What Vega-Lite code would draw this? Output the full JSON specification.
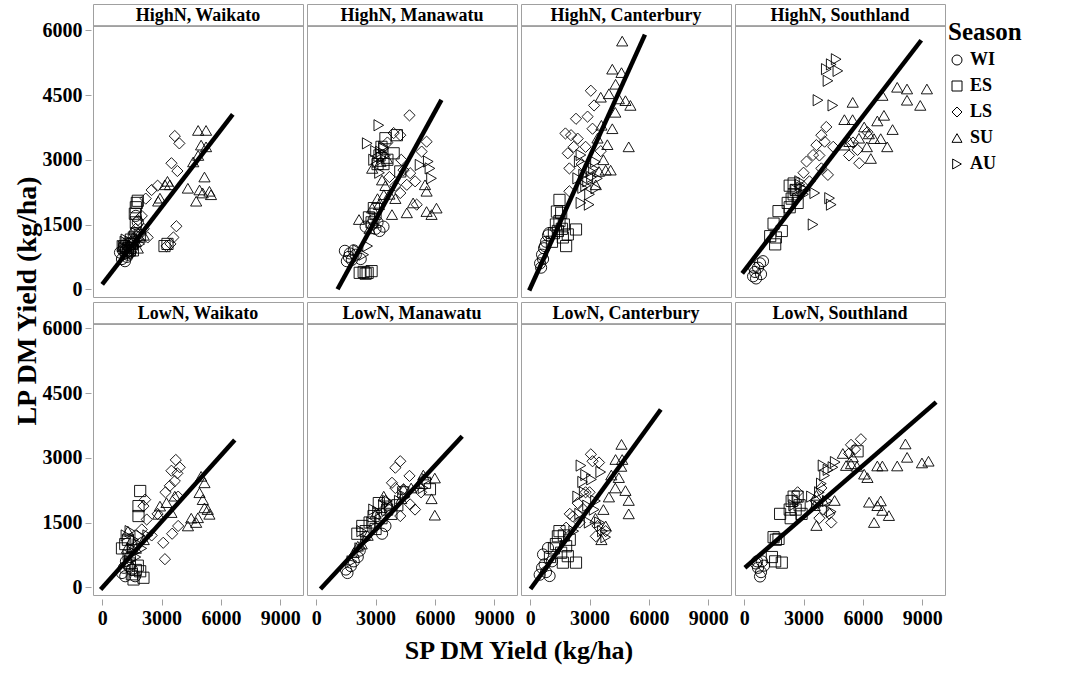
{
"$schema":"https://vega.github.io/schema/vega-lite/v6.json",
"background":"white",
"padding":{"left":13,"top":3,"right":5,"bottom":5},
"data":{"values":[
{"N":"HighN","Region":"Waikato","Season":"WI","SP":1000,"LP":700},{"N":"HighN","Region":"Waikato","Season":"WI","SP":1150,"LP":650},{"N":"HighN","Region":"Waikato","Season":"WI","SP":1300,"LP":800},{"N":"HighN","Region":"Waikato","Season":"WI","SP":1200,"LP":900},{"N":"HighN","Region":"Waikato","Season":"WI","SP":1400,"LP":850},{"N":"HighN","Region":"Waikato","Season":"WI","SP":1500,"LP":950},{"N":"HighN","Region":"Waikato","Season":"WI","SP":1100,"LP":1000},{"N":"HighN","Region":"Waikato","Season":"WI","SP":1650,"LP":1300},{"N":"HighN","Region":"Waikato","Season":"WI","SP":1800,"LP":1550},{"N":"HighN","Region":"Waikato","Season":"WI","SP":1700,"LP":1700},{"N":"HighN","Region":"Waikato","Season":"WI","SP":1350,"LP":1050},{"N":"HighN","Region":"Waikato","Season":"WI","SP":1550,"LP":1100},{"N":"HighN","Region":"Waikato","Season":"WI","SP":900,"LP":850},{"N":"HighN","Region":"Waikato","Season":"WI","SP":1250,"LP":750},{"N":"HighN","Region":"Waikato","Season":"WI","SP":1050,"LP":900},
{"N":"HighN","Region":"Waikato","Season":"ES","SP":1100,"LP":1000},{"N":"HighN","Region":"Waikato","Season":"ES","SP":1300,"LP":950},{"N":"HighN","Region":"Waikato","Season":"ES","SP":1500,"LP":1050},{"N":"HighN","Region":"Waikato","Season":"ES","SP":1600,"LP":1200},{"N":"HighN","Region":"Waikato","Season":"ES","SP":1700,"LP":1900},{"N":"HighN","Region":"Waikato","Season":"ES","SP":1750,"LP":2000},{"N":"HighN","Region":"Waikato","Season":"ES","SP":1800,"LP":2050},{"N":"HighN","Region":"Waikato","Season":"ES","SP":1650,"LP":1750},{"N":"HighN","Region":"Waikato","Season":"ES","SP":1400,"LP":900},{"N":"HighN","Region":"Waikato","Season":"ES","SP":3150,"LP":1000},{"N":"HighN","Region":"Waikato","Season":"ES","SP":3300,"LP":1050},{"N":"HighN","Region":"Waikato","Season":"ES","SP":1900,"LP":1250},{"N":"HighN","Region":"Waikato","Season":"ES","SP":1200,"LP":850},{"N":"HighN","Region":"Waikato","Season":"ES","SP":1450,"LP":1150},{"N":"HighN","Region":"Waikato","Season":"ES","SP":1550,"LP":900},{"N":"HighN","Region":"Waikato","Season":"ES","SP":1700,"LP":1550},
{"N":"HighN","Region":"Waikato","Season":"LS","SP":1900,"LP":1300},{"N":"HighN","Region":"Waikato","Season":"LS","SP":2100,"LP":1400},{"N":"HighN","Region":"Waikato","Season":"LS","SP":2200,"LP":2100},{"N":"HighN","Region":"Waikato","Season":"LS","SP":2000,"LP":1700},{"N":"HighN","Region":"Waikato","Season":"LS","SP":1800,"LP":1600},{"N":"HighN","Region":"Waikato","Season":"LS","SP":3670,"LP":3550},{"N":"HighN","Region":"Waikato","Season":"LS","SP":3900,"LP":3380},{"N":"HighN","Region":"Waikato","Season":"LS","SP":3500,"LP":2920},{"N":"HighN","Region":"Waikato","Season":"LS","SP":3800,"LP":2740},{"N":"HighN","Region":"Waikato","Season":"LS","SP":3750,"LP":1460},{"N":"HighN","Region":"Waikato","Season":"LS","SP":3600,"LP":1200},{"N":"HighN","Region":"Waikato","Season":"LS","SP":3250,"LP":1000},{"N":"HighN","Region":"Waikato","Season":"LS","SP":3450,"LP":1050},{"N":"HighN","Region":"Waikato","Season":"LS","SP":2300,"LP":1200},{"N":"HighN","Region":"Waikato","Season":"LS","SP":2500,"LP":2300},{"N":"HighN","Region":"Waikato","Season":"LS","SP":2800,"LP":2400},{"N":"HighN","Region":"Waikato","Season":"LS","SP":1700,"LP":1400},
{"N":"HighN","Region":"Waikato","Season":"SU","SP":4850,"LP":3680},{"N":"HighN","Region":"Waikato","Season":"SU","SP":5250,"LP":3680},{"N":"HighN","Region":"Waikato","Season":"SU","SP":5000,"LP":3340},{"N":"HighN","Region":"Waikato","Season":"SU","SP":5250,"LP":3300},{"N":"HighN","Region":"Waikato","Season":"SU","SP":4600,"LP":2950},{"N":"HighN","Region":"Waikato","Season":"SU","SP":4850,"LP":3100},{"N":"HighN","Region":"Waikato","Season":"SU","SP":5170,"LP":2600},{"N":"HighN","Region":"Waikato","Season":"SU","SP":4330,"LP":2340},{"N":"HighN","Region":"Waikato","Season":"SU","SP":4920,"LP":2300},{"N":"HighN","Region":"Waikato","Season":"SU","SP":5420,"LP":2270},{"N":"HighN","Region":"Waikato","Season":"SU","SP":5080,"LP":2230},{"N":"HighN","Region":"Waikato","Season":"SU","SP":4750,"LP":2040},{"N":"HighN","Region":"Waikato","Season":"SU","SP":5500,"LP":2190},{"N":"HighN","Region":"Waikato","Season":"SU","SP":3170,"LP":2420},{"N":"HighN","Region":"Waikato","Season":"SU","SP":3420,"LP":2420},{"N":"HighN","Region":"Waikato","Season":"SU","SP":2920,"LP":2110},{"N":"HighN","Region":"Waikato","Season":"SU","SP":2830,"LP":2040},{"N":"HighN","Region":"Waikato","Season":"SU","SP":3300,"LP":2500},{"N":"HighN","Region":"Waikato","Season":"SU","SP":1700,"LP":1100},{"N":"HighN","Region":"Waikato","Season":"SU","SP":1900,"LP":1200},{"N":"HighN","Region":"Waikato","Season":"SU","SP":2100,"LP":1250},{"N":"HighN","Region":"Waikato","Season":"SU","SP":1800,"LP":950},{"N":"HighN","Region":"Waikato","Season":"SU","SP":1550,"LP":1200},{"N":"HighN","Region":"Waikato","Season":"SU","SP":1200,"LP":950},
{"N":"HighN","Region":"Waikato","Season":"AU","SP":1100,"LP":950},{"N":"HighN","Region":"Waikato","Season":"AU","SP":1300,"LP":1050},{"N":"HighN","Region":"Waikato","Season":"AU","SP":1400,"LP":1100},{"N":"HighN","Region":"Waikato","Season":"AU","SP":1000,"LP":1000},{"N":"HighN","Region":"Waikato","Season":"AU","SP":1200,"LP":1150},{"N":"HighN","Region":"Waikato","Season":"AU","SP":1600,"LP":1000},{"N":"HighN","Region":"Waikato","Season":"AU","SP":1500,"LP":850},{"N":"HighN","Region":"Waikato","Season":"AU","SP":1700,"LP":1300},{"N":"HighN","Region":"Waikato","Season":"AU","SP":1900,"LP":1050},{"N":"HighN","Region":"Waikato","Season":"AU","SP":1300,"LP":800},{"N":"HighN","Region":"Waikato","Season":"AU","SP":1150,"LP":1100},{"N":"HighN","Region":"Waikato","Season":"AU","SP":1450,"LP":950},{"N":"HighN","Region":"Waikato","Season":"AU","SP":1800,"LP":1150},
{"N":"HighN","Region":"Waikato","Panel":"HighN, Waikato","SP":0,"LP":110},{"N":"HighN","Region":"Waikato","Panel":"HighN, Waikato","SP":6600,"LP":4050},

{"N":"HighN","Region":"Manawatu","Season":"WI","SP":1450,"LP":890},{"N":"HighN","Region":"Manawatu","Season":"WI","SP":1650,"LP":750},{"N":"HighN","Region":"Manawatu","Season":"WI","SP":1800,"LP":680},{"N":"HighN","Region":"Manawatu","Season":"WI","SP":2000,"LP":800},{"N":"HighN","Region":"Manawatu","Season":"WI","SP":2250,"LP":700},{"N":"HighN","Region":"Manawatu","Season":"WI","SP":1550,"LP":650},{"N":"HighN","Region":"Manawatu","Season":"WI","SP":1900,"LP":900},{"N":"HighN","Region":"Manawatu","Season":"WI","SP":2800,"LP":1500},{"N":"HighN","Region":"Manawatu","Season":"WI","SP":3000,"LP":1400},{"N":"HighN","Region":"Manawatu","Season":"WI","SP":3200,"LP":1350},{"N":"HighN","Region":"Manawatu","Season":"WI","SP":3400,"LP":1450},{"N":"HighN","Region":"Manawatu","Season":"WI","SP":2900,"LP":1600},{"N":"HighN","Region":"Manawatu","Season":"WI","SP":1700,"LP":830},{"N":"HighN","Region":"Manawatu","Season":"WI","SP":2500,"LP":1450},{"N":"HighN","Region":"Manawatu","Season":"WI","SP":3100,"LP":1550},
{"N":"HighN","Region":"Manawatu","Season":"ES","SP":2200,"LP":380},{"N":"HighN","Region":"Manawatu","Season":"ES","SP":2400,"LP":400},{"N":"HighN","Region":"Manawatu","Season":"ES","SP":2600,"LP":380},{"N":"HighN","Region":"Manawatu","Season":"ES","SP":2800,"LP":420},{"N":"HighN","Region":"Manawatu","Season":"ES","SP":2500,"LP":360},{"N":"HighN","Region":"Manawatu","Season":"ES","SP":2915,"LP":1880},{"N":"HighN","Region":"Manawatu","Season":"ES","SP":2665,"LP":1665},{"N":"HighN","Region":"Manawatu","Season":"ES","SP":3915,"LP":3150},{"N":"HighN","Region":"Manawatu","Season":"ES","SP":4080,"LP":3570},{"N":"HighN","Region":"Manawatu","Season":"ES","SP":4250,"LP":2730},{"N":"HighN","Region":"Manawatu","Season":"ES","SP":3200,"LP":3100},{"N":"HighN","Region":"Manawatu","Season":"ES","SP":3400,"LP":2900},{"N":"HighN","Region":"Manawatu","Season":"ES","SP":3000,"LP":1750},{"N":"HighN","Region":"Manawatu","Season":"ES","SP":3300,"LP":3300},{"N":"HighN","Region":"Manawatu","Season":"ES","SP":3600,"LP":3000},{"N":"HighN","Region":"Manawatu","Season":"ES","SP":2800,"LP":1550},{"N":"HighN","Region":"Manawatu","Season":"ES","SP":3100,"LP":2900},{"N":"HighN","Region":"Manawatu","Season":"ES","SP":3500,"LP":3500},
{"N":"HighN","Region":"Manawatu","Season":"LS","SP":4715,"LP":4030},{"N":"HighN","Region":"Manawatu","Season":"LS","SP":3915,"LP":3620},{"N":"HighN","Region":"Manawatu","Season":"LS","SP":4250,"LP":3570},{"N":"HighN","Region":"Manawatu","Season":"LS","SP":5580,"LP":3420},{"N":"HighN","Region":"Manawatu","Season":"LS","SP":5330,"LP":3190},{"N":"HighN","Region":"Manawatu","Season":"LS","SP":4415,"LP":2760},{"N":"HighN","Region":"Manawatu","Season":"LS","SP":4750,"LP":2690},{"N":"HighN","Region":"Manawatu","Season":"LS","SP":4580,"LP":2420},{"N":"HighN","Region":"Manawatu","Season":"LS","SP":4250,"LP":2230},{"N":"HighN","Region":"Manawatu","Season":"LS","SP":5080,"LP":1960},{"N":"HighN","Region":"Manawatu","Season":"LS","SP":3700,"LP":2600},{"N":"HighN","Region":"Manawatu","Season":"LS","SP":4000,"LP":2400},{"N":"HighN","Region":"Manawatu","Season":"LS","SP":3600,"LP":3400},{"N":"HighN","Region":"Manawatu","Season":"LS","SP":4300,"LP":3000},{"N":"HighN","Region":"Manawatu","Season":"LS","SP":5000,"LP":2500},
{"N":"HighN","Region":"Manawatu","Season":"SU","SP":2165,"LP":1615},{"N":"HighN","Region":"Manawatu","Season":"SU","SP":2830,"LP":1880},{"N":"HighN","Region":"Manawatu","Season":"SU","SP":3170,"LP":1960},{"N":"HighN","Region":"Manawatu","Season":"SU","SP":3420,"LP":2190},{"N":"HighN","Region":"Manawatu","Season":"SU","SP":3830,"LP":1730},{"N":"HighN","Region":"Manawatu","Season":"SU","SP":4580,"LP":1770},{"N":"HighN","Region":"Manawatu","Season":"SU","SP":5580,"LP":1800},{"N":"HighN","Region":"Manawatu","Season":"SU","SP":5830,"LP":1730},{"N":"HighN","Region":"Manawatu","Season":"SU","SP":6080,"LP":1880},{"N":"HighN","Region":"Manawatu","Season":"SU","SP":5580,"LP":2270},{"N":"HighN","Region":"Manawatu","Season":"SU","SP":5500,"LP":2420},{"N":"HighN","Region":"Manawatu","Season":"SU","SP":3330,"LP":2530},{"N":"HighN","Region":"Manawatu","Season":"SU","SP":2830,"LP":2800},{"N":"HighN","Region":"Manawatu","Season":"SU","SP":3250,"LP":2960},{"N":"HighN","Region":"Manawatu","Season":"SU","SP":3580,"LP":3030},{"N":"HighN","Region":"Manawatu","Season":"SU","SP":3700,"LP":2200},{"N":"HighN","Region":"Manawatu","Season":"SU","SP":3100,"LP":2100},{"N":"HighN","Region":"Manawatu","Season":"SU","SP":4900,"LP":2000},{"N":"HighN","Region":"Manawatu","Season":"SU","SP":3500,"LP":2400},{"N":"HighN","Region":"Manawatu","Season":"SU","SP":4000,"LP":2100},{"N":"HighN","Region":"Manawatu","Season":"SU","SP":2700,"LP":1400},
{"N":"HighN","Region":"Manawatu","Season":"AU","SP":3165,"LP":3800},{"N":"HighN","Region":"Manawatu","Season":"AU","SP":2580,"LP":3380},{"N":"HighN","Region":"Manawatu","Season":"AU","SP":3415,"LP":3260},{"N":"HighN","Region":"Manawatu","Season":"AU","SP":3250,"LP":3185},{"N":"HighN","Region":"Manawatu","Season":"AU","SP":5665,"LP":2960},{"N":"HighN","Region":"Manawatu","Season":"AU","SP":5750,"LP":2800},{"N":"HighN","Region":"Manawatu","Season":"AU","SP":5830,"LP":2570},{"N":"HighN","Region":"Manawatu","Season":"AU","SP":5250,"LP":2880},{"N":"HighN","Region":"Manawatu","Season":"AU","SP":3000,"LP":3200},{"N":"HighN","Region":"Manawatu","Season":"AU","SP":3300,"LP":3050},{"N":"HighN","Region":"Manawatu","Season":"AU","SP":3500,"LP":3100},{"N":"HighN","Region":"Manawatu","Season":"AU","SP":2600,"LP":1000},{"N":"HighN","Region":"Manawatu","Season":"AU","SP":2400,"LP":800},{"N":"HighN","Region":"Manawatu","Season":"AU","SP":2100,"LP":900},{"N":"HighN","Region":"Manawatu","Season":"AU","SP":3100,"LP":2950},{"N":"HighN","Region":"Manawatu","Season":"AU","SP":3200,"LP":2700},{"N":"HighN","Region":"Manawatu","Season":"AU","SP":3400,"LP":3300},{"N":"HighN","Region":"Manawatu","Season":"AU","SP":2900,"LP":3000},
{"N":"HighN","Region":"Manawatu","Panel":"HighN, Manawatu","SP":1080,"LP":0},{"N":"HighN","Region":"Manawatu","Panel":"HighN, Manawatu","SP":6330,"LP":4390},

{"N":"HighN","Region":"Canterbury","Season":"WI","SP":500,"LP":600},{"N":"HighN","Region":"Canterbury","Season":"WI","SP":600,"LP":800},{"N":"HighN","Region":"Canterbury","Season":"WI","SP":700,"LP":950},{"N":"HighN","Region":"Canterbury","Season":"WI","SP":800,"LP":1100},{"N":"HighN","Region":"Canterbury","Season":"WI","SP":900,"LP":1250},{"N":"HighN","Region":"Canterbury","Season":"WI","SP":950,"LP":1300},{"N":"HighN","Region":"Canterbury","Season":"WI","SP":650,"LP":700},{"N":"HighN","Region":"Canterbury","Season":"WI","SP":550,"LP":500},{"N":"HighN","Region":"Canterbury","Season":"WI","SP":750,"LP":1000},
{"N":"HighN","Region":"Canterbury","Season":"ES","SP":1480,"LP":2070},{"N":"HighN","Region":"Canterbury","Season":"ES","SP":1565,"LP":1770},{"N":"HighN","Region":"Canterbury","Season":"ES","SP":1480,"LP":1580},{"N":"HighN","Region":"Canterbury","Season":"ES","SP":1400,"LP":1350},{"N":"HighN","Region":"Canterbury","Season":"ES","SP":1650,"LP":1200},{"N":"HighN","Region":"Canterbury","Season":"ES","SP":1900,"LP":1270},{"N":"HighN","Region":"Canterbury","Season":"ES","SP":2315,"LP":1385},{"N":"HighN","Region":"Canterbury","Season":"ES","SP":1815,"LP":1000},{"N":"HighN","Region":"Canterbury","Season":"ES","SP":1300,"LP":1500},{"N":"HighN","Region":"Canterbury","Season":"ES","SP":1200,"LP":1300},{"N":"HighN","Region":"Canterbury","Season":"ES","SP":1700,"LP":1500},{"N":"HighN","Region":"Canterbury","Season":"ES","SP":1100,"LP":1100},{"N":"HighN","Region":"Canterbury","Season":"ES","SP":1350,"LP":1800},{"N":"HighN","Region":"Canterbury","Season":"ES","SP":1600,"LP":1400},
{"N":"HighN","Region":"Canterbury","Season":"LS","SP":3065,"LP":4600},{"N":"HighN","Region":"Canterbury","Season":"LS","SP":3230,"LP":4260},{"N":"HighN","Region":"Canterbury","Season":"LS","SP":2315,"LP":3950},{"N":"HighN","Region":"Canterbury","Season":"LS","SP":1780,"LP":3610},{"N":"HighN","Region":"Canterbury","Season":"LS","SP":2065,"LP":3570},{"N":"HighN","Region":"Canterbury","Season":"LS","SP":2400,"LP":3490},{"N":"HighN","Region":"Canterbury","Season":"LS","SP":1900,"LP":3150},{"N":"HighN","Region":"Canterbury","Season":"LS","SP":1980,"LP":2800},{"N":"HighN","Region":"Canterbury","Season":"LS","SP":3150,"LP":3720},{"N":"HighN","Region":"Canterbury","Season":"LS","SP":3565,"LP":3200},{"N":"HighN","Region":"Canterbury","Season":"LS","SP":1980,"LP":2270},{"N":"HighN","Region":"Canterbury","Season":"LS","SP":2800,"LP":3300},{"N":"HighN","Region":"Canterbury","Season":"LS","SP":2600,"LP":2900},{"N":"HighN","Region":"Canterbury","Season":"LS","SP":2200,"LP":3300},{"N":"HighN","Region":"Canterbury","Season":"LS","SP":2900,"LP":4000},
{"N":"HighN","Region":"Canterbury","Season":"SU","SP":4650,"LP":5750},{"N":"HighN","Region":"Canterbury","Season":"SU","SP":4150,"LP":5100},{"N":"HighN","Region":"Canterbury","Season":"SU","SP":4615,"LP":5020},{"N":"HighN","Region":"Canterbury","Season":"SU","SP":4315,"LP":4750},{"N":"HighN","Region":"Canterbury","Season":"SU","SP":3565,"LP":4450},{"N":"HighN","Region":"Canterbury","Season":"SU","SP":3980,"LP":4530},{"N":"HighN","Region":"Canterbury","Season":"SU","SP":4480,"LP":4410},{"N":"HighN","Region":"Canterbury","Season":"SU","SP":4815,"LP":4370},{"N":"HighN","Region":"Canterbury","Season":"SU","SP":5065,"LP":4260},{"N":"HighN","Region":"Canterbury","Season":"SU","SP":4150,"LP":3720},{"N":"HighN","Region":"Canterbury","Season":"SU","SP":4980,"LP":3300},{"N":"HighN","Region":"Canterbury","Season":"SU","SP":3900,"LP":3350},{"N":"HighN","Region":"Canterbury","Season":"SU","SP":3480,"LP":2730},{"N":"HighN","Region":"Canterbury","Season":"SU","SP":3815,"LP":2760},{"N":"HighN","Region":"Canterbury","Season":"SU","SP":4065,"LP":2760},{"N":"HighN","Region":"Canterbury","Season":"SU","SP":3315,"LP":2420},{"N":"HighN","Region":"Canterbury","Season":"SU","SP":3700,"LP":3000},{"N":"HighN","Region":"Canterbury","Season":"SU","SP":3600,"LP":3800},{"N":"HighN","Region":"Canterbury","Season":"SU","SP":4300,"LP":4100},{"N":"HighN","Region":"Canterbury","Season":"SU","SP":3400,"LP":3500},
{"N":"HighN","Region":"Canterbury","Season":"AU","SP":2565,"LP":3110},{"N":"HighN","Region":"Canterbury","Season":"AU","SP":2480,"LP":2960},{"N":"HighN","Region":"Canterbury","Season":"AU","SP":2565,"LP":2000},{"N":"HighN","Region":"Canterbury","Season":"AU","SP":2980,"LP":1960},{"N":"HighN","Region":"Canterbury","Season":"AU","SP":3065,"LP":2730},{"N":"HighN","Region":"Canterbury","Season":"AU","SP":3400,"LP":2570},{"N":"HighN","Region":"Canterbury","Season":"AU","SP":2400,"LP":2570},{"N":"HighN","Region":"Canterbury","Season":"AU","SP":3315,"LP":2340},{"N":"HighN","Region":"Canterbury","Season":"AU","SP":2800,"LP":2400},{"N":"HighN","Region":"Canterbury","Season":"AU","SP":3000,"LP":2200},{"N":"HighN","Region":"Canterbury","Season":"AU","SP":3200,"LP":2800},{"N":"HighN","Region":"Canterbury","Season":"AU","SP":2700,"LP":2650},{"N":"HighN","Region":"Canterbury","Season":"AU","SP":2900,"LP":2500},{"N":"HighN","Region":"Canterbury","Season":"AU","SP":3100,"LP":2600},{"N":"HighN","Region":"Canterbury","Season":"AU","SP":2650,"LP":2350},{"N":"HighN","Region":"Canterbury","Season":"AU","SP":3300,"LP":2950},
{"N":"HighN","Region":"Canterbury","Panel":"HighN, Canterbury","SP":-50,"LP":-30},{"N":"HighN","Region":"Canterbury","Panel":"HighN, Canterbury","SP":5800,"LP":5900},

{"N":"HighN","Region":"Southland","Season":"WI","SP":450,"LP":300},{"N":"HighN","Region":"Southland","Season":"WI","SP":550,"LP":400},{"N":"HighN","Region":"Southland","Season":"WI","SP":700,"LP":500},{"N":"HighN","Region":"Southland","Season":"WI","SP":800,"LP":600},{"N":"HighN","Region":"Southland","Season":"WI","SP":950,"LP":650},{"N":"HighN","Region":"Southland","Season":"WI","SP":600,"LP":250},{"N":"HighN","Region":"Southland","Season":"WI","SP":500,"LP":500},{"N":"HighN","Region":"Southland","Season":"WI","SP":850,"LP":350},
{"N":"HighN","Region":"Southland","Season":"ES","SP":1735,"LP":1810},{"N":"HighN","Region":"Southland","Season":"ES","SP":1485,"LP":1520},{"N":"HighN","Region":"Southland","Season":"ES","SP":1900,"LP":1350},{"N":"HighN","Region":"Southland","Season":"ES","SP":1315,"LP":1230},{"N":"HighN","Region":"Southland","Season":"ES","SP":1565,"LP":1040},{"N":"HighN","Region":"Southland","Season":"ES","SP":2300,"LP":2400},{"N":"HighN","Region":"Southland","Season":"ES","SP":2500,"LP":2200},{"N":"HighN","Region":"Southland","Season":"ES","SP":2700,"LP":2000},{"N":"HighN","Region":"Southland","Season":"ES","SP":2400,"LP":2100},{"N":"HighN","Region":"Southland","Season":"ES","SP":2600,"LP":2300},{"N":"HighN","Region":"Southland","Season":"ES","SP":2300,"LP":1900},{"N":"HighN","Region":"Southland","Season":"ES","SP":1600,"LP":1200},{"N":"HighN","Region":"Southland","Season":"ES","SP":2200,"LP":2000},{"N":"HighN","Region":"Southland","Season":"ES","SP":2500,"LP":2450},
{"N":"HighN","Region":"Southland","Season":"LS","SP":4150,"LP":3760},{"N":"HighN","Region":"Southland","Season":"LS","SP":3900,"LP":3570},{"N":"HighN","Region":"Southland","Season":"LS","SP":4065,"LP":3420},{"N":"HighN","Region":"Southland","Season":"LS","SP":3650,"LP":3340},{"N":"HighN","Region":"Southland","Season":"LS","SP":3480,"LP":3110},{"N":"HighN","Region":"Southland","Season":"LS","SP":3150,"LP":2960},{"N":"HighN","Region":"Southland","Season":"LS","SP":3900,"LP":2800},{"N":"HighN","Region":"Southland","Season":"LS","SP":4230,"LP":2650},{"N":"HighN","Region":"Southland","Season":"LS","SP":5815,"LP":2920},{"N":"HighN","Region":"Southland","Season":"LS","SP":5730,"LP":3230},{"N":"HighN","Region":"Southland","Season":"LS","SP":6230,"LP":3640},{"N":"HighN","Region":"Southland","Season":"LS","SP":3000,"LP":2700},{"N":"HighN","Region":"Southland","Season":"LS","SP":3300,"LP":2500},{"N":"HighN","Region":"Southland","Season":"LS","SP":5500,"LP":3400},{"N":"HighN","Region":"Southland","Season":"LS","SP":3800,"LP":3100},{"N":"HighN","Region":"Southland","Season":"LS","SP":4500,"LP":3300},{"N":"HighN","Region":"Southland","Season":"LS","SP":5300,"LP":3100},
{"N":"HighN","Region":"Southland","Season":"SU","SP":5485,"LP":4330},{"N":"HighN","Region":"Southland","Season":"SU","SP":6985,"LP":4490},{"N":"HighN","Region":"Southland","Season":"SU","SP":7735,"LP":4680},{"N":"HighN","Region":"Southland","Season":"SU","SP":8230,"LP":4640},{"N":"HighN","Region":"Southland","Season":"SU","SP":9235,"LP":4640},{"N":"HighN","Region":"Southland","Season":"SU","SP":8230,"LP":4380},{"N":"HighN","Region":"Southland","Season":"SU","SP":8900,"LP":4260},{"N":"HighN","Region":"Southland","Season":"SU","SP":5065,"LP":3930},{"N":"HighN","Region":"Southland","Season":"SU","SP":5480,"LP":3930},{"N":"HighN","Region":"Southland","Season":"SU","SP":6730,"LP":3900},{"N":"HighN","Region":"Southland","Season":"SU","SP":7065,"LP":4030},{"N":"HighN","Region":"Southland","Season":"SU","SP":6065,"LP":3760},{"N":"HighN","Region":"Southland","Season":"SU","SP":6565,"LP":3490},{"N":"HighN","Region":"Southland","Season":"SU","SP":6900,"LP":3490},{"N":"HighN","Region":"Southland","Season":"SU","SP":7230,"LP":3300},{"N":"HighN","Region":"Southland","Season":"SU","SP":6400,"LP":3030},{"N":"HighN","Region":"Southland","Season":"SU","SP":5315,"LP":3420},{"N":"HighN","Region":"Southland","Season":"SU","SP":5065,"LP":3340},{"N":"HighN","Region":"Southland","Season":"SU","SP":6200,"LP":3300},{"N":"HighN","Region":"Southland","Season":"SU","SP":5800,"LP":3500},{"N":"HighN","Region":"Southland","Season":"SU","SP":7500,"LP":3700},{"N":"HighN","Region":"Southland","Season":"SU","SP":6300,"LP":3600},
{"N":"HighN","Region":"Southland","Season":"AU","SP":4650,"LP":5330},{"N":"HighN","Region":"Southland","Season":"AU","SP":4400,"LP":5210},{"N":"HighN","Region":"Southland","Season":"AU","SP":4735,"LP":5060},{"N":"HighN","Region":"Southland","Season":"AU","SP":4150,"LP":5100},{"N":"HighN","Region":"Southland","Season":"AU","SP":4235,"LP":4830},{"N":"HighN","Region":"Southland","Season":"AU","SP":3730,"LP":4380},{"N":"HighN","Region":"Southland","Season":"AU","SP":4480,"LP":4260},{"N":"HighN","Region":"Southland","Season":"AU","SP":3565,"LP":2230},{"N":"HighN","Region":"Southland","Season":"AU","SP":2815,"LP":2420},{"N":"HighN","Region":"Southland","Season":"AU","SP":4315,"LP":2110},{"N":"HighN","Region":"Southland","Season":"AU","SP":4400,"LP":1960},{"N":"HighN","Region":"Southland","Season":"AU","SP":3480,"LP":1500},{"N":"HighN","Region":"Southland","Season":"AU","SP":2600,"LP":2300},{"N":"HighN","Region":"Southland","Season":"AU","SP":2800,"LP":2500},{"N":"HighN","Region":"Southland","Season":"AU","SP":3000,"LP":2200},{"N":"HighN","Region":"Southland","Season":"AU","SP":2700,"LP":2100},{"N":"HighN","Region":"Southland","Season":"AU","SP":2900,"LP":2350},{"N":"HighN","Region":"Southland","Season":"AU","SP":3100,"LP":2300},
{"N":"HighN","Region":"Southland","Panel":"HighN, Southland","SP":-100,"LP":370},{"N":"HighN","Region":"Southland","Panel":"HighN, Southland","SP":8950,"LP":5770},

{"N":"LowN","Region":"Waikato","Season":"WI","SP":1000,"LP":330},{"N":"LowN","Region":"Waikato","Season":"WI","SP":1165,"LP":255},{"N":"LowN","Region":"Waikato","Season":"WI","SP":1500,"LP":410},{"N":"LowN","Region":"Waikato","Season":"WI","SP":1665,"LP":255},{"N":"LowN","Region":"Waikato","Season":"WI","SP":1335,"LP":490},{"N":"LowN","Region":"Waikato","Season":"WI","SP":1200,"LP":600},{"N":"LowN","Region":"Waikato","Season":"WI","SP":1400,"LP":700},{"N":"LowN","Region":"Waikato","Season":"WI","SP":1100,"LP":450},
{"N":"LowN","Region":"Waikato","Season":"ES","SP":1920,"LP":2230},{"N":"LowN","Region":"Waikato","Season":"ES","SP":1835,"LP":1880},{"N":"LowN","Region":"Waikato","Season":"ES","SP":1835,"LP":1650},{"N":"LowN","Region":"Waikato","Season":"ES","SP":1165,"LP":1000},{"N":"LowN","Region":"Waikato","Season":"ES","SP":1000,"LP":900},{"N":"LowN","Region":"Waikato","Season":"ES","SP":2085,"LP":220},{"N":"LowN","Region":"Waikato","Season":"ES","SP":1585,"LP":180},{"N":"LowN","Region":"Waikato","Season":"ES","SP":1920,"LP":370},{"N":"LowN","Region":"Waikato","Season":"ES","SP":1300,"LP":1100},{"N":"LowN","Region":"Waikato","Season":"ES","SP":1800,"LP":500},{"N":"LowN","Region":"Waikato","Season":"ES","SP":1500,"LP":300},{"N":"LowN","Region":"Waikato","Season":"ES","SP":1700,"LP":400},{"N":"LowN","Region":"Waikato","Season":"ES","SP":1400,"LP":550},
{"N":"LowN","Region":"Waikato","Season":"LS","SP":3720,"LP":2950},{"N":"LowN","Region":"Waikato","Season":"LS","SP":3500,"LP":2700},{"N":"LowN","Region":"Waikato","Season":"LS","SP":3920,"LP":2780},{"N":"LowN","Region":"Waikato","Season":"LS","SP":3800,"LP":2640},{"N":"LowN","Region":"Waikato","Season":"LS","SP":3670,"LP":2460},{"N":"LowN","Region":"Waikato","Season":"LS","SP":3420,"LP":2350},{"N":"LowN","Region":"Waikato","Season":"LS","SP":3840,"LP":2100},{"N":"LowN","Region":"Waikato","Season":"LS","SP":3840,"LP":1420},{"N":"LowN","Region":"Waikato","Season":"LS","SP":3535,"LP":1240},{"N":"LowN","Region":"Waikato","Season":"LS","SP":3085,"LP":1030},{"N":"LowN","Region":"Waikato","Season":"LS","SP":3170,"LP":650},{"N":"LowN","Region":"Waikato","Season":"LS","SP":2170,"LP":2030},{"N":"LowN","Region":"Waikato","Season":"LS","SP":2085,"LP":1880},{"N":"LowN","Region":"Waikato","Season":"LS","SP":2250,"LP":1570},{"N":"LowN","Region":"Waikato","Season":"LS","SP":2000,"LP":1340},{"N":"LowN","Region":"Waikato","Season":"LS","SP":2500,"LP":1200},{"N":"LowN","Region":"Waikato","Season":"LS","SP":2800,"LP":1700},{"N":"LowN","Region":"Waikato","Season":"LS","SP":3200,"LP":2200},
{"N":"LowN","Region":"Waikato","Season":"SU","SP":2920,"LP":1880},{"N":"LowN","Region":"Waikato","Season":"SU","SP":3250,"LP":1960},{"N":"LowN","Region":"Waikato","Season":"SU","SP":2835,"LP":1690},{"N":"LowN","Region":"Waikato","Season":"SU","SP":3500,"LP":1730},{"N":"LowN","Region":"Waikato","Season":"SU","SP":3670,"LP":2110},{"N":"LowN","Region":"Waikato","Season":"SU","SP":5170,"LP":2420},{"N":"LowN","Region":"Waikato","Season":"SU","SP":4920,"LP":2190},{"N":"LowN","Region":"Waikato","Season":"SU","SP":5085,"LP":2030},{"N":"LowN","Region":"Waikato","Season":"SU","SP":5170,"LP":1840},{"N":"LowN","Region":"Waikato","Season":"SU","SP":5420,"LP":1690},{"N":"LowN","Region":"Waikato","Season":"SU","SP":4750,"LP":1500},{"N":"LowN","Region":"Waikato","Season":"SU","SP":4835,"LP":1610},{"N":"LowN","Region":"Waikato","Season":"SU","SP":5335,"LP":1800},{"N":"LowN","Region":"Waikato","Season":"SU","SP":4500,"LP":1600},{"N":"LowN","Region":"Waikato","Season":"SU","SP":4335,"LP":1420},{"N":"LowN","Region":"Waikato","Season":"SU","SP":5000,"LP":2570},{"N":"LowN","Region":"Waikato","Season":"SU","SP":1300,"LP":1300},{"N":"LowN","Region":"Waikato","Season":"SU","SP":1500,"LP":1100},{"N":"LowN","Region":"Waikato","Season":"SU","SP":1700,"LP":900},{"N":"LowN","Region":"Waikato","Season":"SU","SP":2100,"LP":1100},{"N":"LowN","Region":"Waikato","Season":"SU","SP":1250,"LP":900},
{"N":"LowN","Region":"Waikato","Season":"AU","SP":1400,"LP":1300},{"N":"LowN","Region":"Waikato","Season":"AU","SP":1600,"LP":1100},{"N":"LowN","Region":"Waikato","Season":"AU","SP":1800,"LP":1000},{"N":"LowN","Region":"Waikato","Season":"AU","SP":2000,"LP":900},{"N":"LowN","Region":"Waikato","Season":"AU","SP":1300,"LP":750},{"N":"LowN","Region":"Waikato","Season":"AU","SP":1700,"LP":700},{"N":"LowN","Region":"Waikato","Season":"AU","SP":2300,"LP":1200},{"N":"LowN","Region":"Waikato","Season":"AU","SP":1500,"LP":900},{"N":"LowN","Region":"Waikato","Season":"AU","SP":1200,"LP":1200},{"N":"LowN","Region":"Waikato","Season":"AU","SP":1600,"LP":800},{"N":"LowN","Region":"Waikato","Season":"AU","SP":1900,"LP":1200},{"N":"LowN","Region":"Waikato","Season":"AU","SP":1400,"LP":600},
{"N":"LowN","Region":"Waikato","Panel":"LowN, Waikato","SP":-80,"LP":-50},{"N":"LowN","Region":"Waikato","Panel":"LowN, Waikato","SP":6700,"LP":3410},

{"N":"LowN","Region":"Manawatu","Season":"WI","SP":1580,"LP":330},{"N":"LowN","Region":"Manawatu","Season":"WI","SP":1500,"LP":410},{"N":"LowN","Region":"Manawatu","Season":"WI","SP":1750,"LP":490},{"N":"LowN","Region":"Manawatu","Season":"WI","SP":3330,"LP":1240},{"N":"LowN","Region":"Manawatu","Season":"WI","SP":3500,"LP":1420},{"N":"LowN","Region":"Manawatu","Season":"WI","SP":1900,"LP":600},{"N":"LowN","Region":"Manawatu","Season":"WI","SP":2100,"LP":700},{"N":"LowN","Region":"Manawatu","Season":"WI","SP":2200,"LP":850},
{"N":"LowN","Region":"Manawatu","Season":"ES","SP":2330,"LP":1420},{"N":"LowN","Region":"Manawatu","Season":"ES","SP":2080,"LP":1240},{"N":"LowN","Region":"Manawatu","Season":"ES","SP":5500,"LP":2420},{"N":"LowN","Region":"Manawatu","Season":"ES","SP":5750,"LP":2270},{"N":"LowN","Region":"Manawatu","Season":"ES","SP":3165,"LP":1950},{"N":"LowN","Region":"Manawatu","Season":"ES","SP":3585,"LP":1800},{"N":"LowN","Region":"Manawatu","Season":"ES","SP":2700,"LP":1500},{"N":"LowN","Region":"Manawatu","Season":"ES","SP":2900,"LP":1650},{"N":"LowN","Region":"Manawatu","Season":"ES","SP":3300,"LP":1600},{"N":"LowN","Region":"Manawatu","Season":"ES","SP":4100,"LP":1900},{"N":"LowN","Region":"Manawatu","Season":"ES","SP":2500,"LP":1300},{"N":"LowN","Region":"Manawatu","Season":"ES","SP":3800,"LP":1700},{"N":"LowN","Region":"Manawatu","Season":"ES","SP":3000,"LP":1350},{"N":"LowN","Region":"Manawatu","Season":"ES","SP":4400,"LP":2200},
{"N":"LowN","Region":"Manawatu","Season":"LS","SP":4250,"LP":2920},{"N":"LowN","Region":"Manawatu","Season":"LS","SP":4000,"LP":2770},{"N":"LowN","Region":"Manawatu","Season":"LS","SP":4715,"LP":2580},{"N":"LowN","Region":"Manawatu","Season":"LS","SP":3830,"LP":2420},{"N":"LowN","Region":"Manawatu","Season":"LS","SP":4000,"LP":2300},{"N":"LowN","Region":"Manawatu","Season":"LS","SP":4415,"LP":2270},{"N":"LowN","Region":"Manawatu","Season":"LS","SP":4995,"LP":1800},{"N":"LowN","Region":"Manawatu","Season":"LS","SP":4250,"LP":1650},{"N":"LowN","Region":"Manawatu","Season":"LS","SP":4750,"LP":1920},{"N":"LowN","Region":"Manawatu","Season":"LS","SP":3500,"LP":2000},{"N":"LowN","Region":"Manawatu","Season":"LS","SP":5300,"LP":2200},{"N":"LowN","Region":"Manawatu","Season":"LS","SP":3300,"LP":1750},
{"N":"LowN","Region":"Manawatu","Season":"SU","SP":5995,"LP":2530},{"N":"LowN","Region":"Manawatu","Season":"SU","SP":5995,"LP":1670},{"N":"LowN","Region":"Manawatu","Season":"SU","SP":5830,"LP":2050},{"N":"LowN","Region":"Manawatu","Season":"SU","SP":5415,"LP":2600},{"N":"LowN","Region":"Manawatu","Season":"SU","SP":4415,"LP":2270},{"N":"LowN","Region":"Manawatu","Season":"SU","SP":3415,"LP":2110},{"N":"LowN","Region":"Manawatu","Season":"SU","SP":2300,"LP":1000},{"N":"LowN","Region":"Manawatu","Season":"SU","SP":1900,"LP":800},{"N":"LowN","Region":"Manawatu","Season":"SU","SP":3000,"LP":1700},{"N":"LowN","Region":"Manawatu","Season":"SU","SP":4800,"LP":2300},{"N":"LowN","Region":"Manawatu","Season":"SU","SP":5200,"LP":2400},{"N":"LowN","Region":"Manawatu","Season":"SU","SP":2600,"LP":1200},{"N":"LowN","Region":"Manawatu","Season":"SU","SP":3700,"LP":1900},{"N":"LowN","Region":"Manawatu","Season":"SU","SP":4300,"LP":2050},{"N":"LowN","Region":"Manawatu","Season":"SU","SP":2100,"LP":950},
{"N":"LowN","Region":"Manawatu","Season":"AU","SP":2800,"LP":1500},{"N":"LowN","Region":"Manawatu","Season":"AU","SP":3100,"LP":1750},{"N":"LowN","Region":"Manawatu","Season":"AU","SP":3400,"LP":1900},{"N":"LowN","Region":"Manawatu","Season":"AU","SP":3700,"LP":1850},{"N":"LowN","Region":"Manawatu","Season":"AU","SP":2500,"LP":1100},{"N":"LowN","Region":"Manawatu","Season":"AU","SP":2200,"LP":900},{"N":"LowN","Region":"Manawatu","Season":"AU","SP":1800,"LP":600},{"N":"LowN","Region":"Manawatu","Season":"AU","SP":3200,"LP":1500},{"N":"LowN","Region":"Manawatu","Season":"AU","SP":4200,"LP":2000},{"N":"LowN","Region":"Manawatu","Season":"AU","SP":5600,"LP":2500},{"N":"LowN","Region":"Manawatu","Season":"AU","SP":5400,"LP":2300},{"N":"LowN","Region":"Manawatu","Season":"AU","SP":2900,"LP":1800},{"N":"LowN","Region":"Manawatu","Season":"AU","SP":3600,"LP":2000},{"N":"LowN","Region":"Manawatu","Season":"AU","SP":2300,"LP":1300},{"N":"LowN","Region":"Manawatu","Season":"AU","SP":4500,"LP":2100},
{"N":"LowN","Region":"Manawatu","Panel":"LowN, Manawatu","SP":215,"LP":-40},{"N":"LowN","Region":"Manawatu","Panel":"LowN, Manawatu","SP":7380,"LP":3500},

{"N":"LowN","Region":"Canterbury","Season":"WI","SP":480,"LP":290},{"N":"LowN","Region":"Canterbury","Season":"WI","SP":730,"LP":530},{"N":"LowN","Region":"Canterbury","Season":"WI","SP":980,"LP":260},{"N":"LowN","Region":"Canterbury","Season":"WI","SP":650,"LP":760},{"N":"LowN","Region":"Canterbury","Season":"WI","SP":900,"LP":910},{"N":"LowN","Region":"Canterbury","Season":"WI","SP":600,"LP":450},{"N":"LowN","Region":"Canterbury","Season":"WI","SP":1100,"LP":600},{"N":"LowN","Region":"Canterbury","Season":"WI","SP":800,"LP":350},
{"N":"LowN","Region":"Canterbury","Season":"ES","SP":1480,"LP":1300},{"N":"LowN","Region":"Canterbury","Season":"ES","SP":1400,"LP":1180},{"N":"LowN","Region":"Canterbury","Season":"ES","SP":1815,"LP":950},{"N":"LowN","Region":"Canterbury","Season":"ES","SP":1900,"LP":720},{"N":"LowN","Region":"Canterbury","Season":"ES","SP":1650,"LP":570},{"N":"LowN","Region":"Canterbury","Season":"ES","SP":2315,"LP":570},{"N":"LowN","Region":"Canterbury","Season":"ES","SP":1565,"LP":800},{"N":"LowN","Region":"Canterbury","Season":"ES","SP":1300,"LP":1000},{"N":"LowN","Region":"Canterbury","Season":"ES","SP":1200,"LP":900},{"N":"LowN","Region":"Canterbury","Season":"ES","SP":2000,"LP":1100},{"N":"LowN","Region":"Canterbury","Season":"ES","SP":1700,"LP":1200},{"N":"LowN","Region":"Canterbury","Season":"ES","SP":1000,"LP":700},
{"N":"LowN","Region":"Canterbury","Season":"LS","SP":3065,"LP":3080},{"N":"LowN","Region":"Canterbury","Season":"LS","SP":3150,"LP":2920},{"N":"LowN","Region":"Canterbury","Season":"LS","SP":3480,"LP":2890},{"N":"LowN","Region":"Canterbury","Season":"LS","SP":2150,"LP":1640},{"N":"LowN","Region":"Canterbury","Season":"LS","SP":1815,"LP":1380},{"N":"LowN","Region":"Canterbury","Season":"LS","SP":2400,"LP":1950},{"N":"LowN","Region":"Canterbury","Season":"LS","SP":3315,"LP":1180},{"N":"LowN","Region":"Canterbury","Season":"LS","SP":3815,"LP":1300},{"N":"LowN","Region":"Canterbury","Season":"LS","SP":3400,"LP":1420},{"N":"LowN","Region":"Canterbury","Season":"LS","SP":2700,"LP":1800},{"N":"LowN","Region":"Canterbury","Season":"LS","SP":3000,"LP":2200},{"N":"LowN","Region":"Canterbury","Season":"LS","SP":2500,"LP":1500},{"N":"LowN","Region":"Canterbury","Season":"LS","SP":2000,"LP":1700},{"N":"LowN","Region":"Canterbury","Season":"LS","SP":2800,"LP":2200},
{"N":"LowN","Region":"Canterbury","Season":"SU","SP":4615,"LP":3310},{"N":"LowN","Region":"Canterbury","Season":"SU","SP":4315,"LP":2960},{"N":"LowN","Region":"Canterbury","Season":"SU","SP":4650,"LP":2960},{"N":"LowN","Region":"Canterbury","Season":"SU","SP":4480,"LP":2540},{"N":"LowN","Region":"Canterbury","Season":"SU","SP":4815,"LP":2240},{"N":"LowN","Region":"Canterbury","Season":"SU","SP":4980,"LP":2010},{"N":"LowN","Region":"Canterbury","Season":"SU","SP":4980,"LP":1700},{"N":"LowN","Region":"Canterbury","Season":"SU","SP":3980,"LP":2090},{"N":"LowN","Region":"Canterbury","Season":"SU","SP":3815,"LP":1420},{"N":"LowN","Region":"Canterbury","Season":"SU","SP":3600,"LP":1100},{"N":"LowN","Region":"Canterbury","Season":"SU","SP":4100,"LP":2600},{"N":"LowN","Region":"Canterbury","Season":"SU","SP":3300,"LP":1600},{"N":"LowN","Region":"Canterbury","Season":"SU","SP":4300,"LP":2300},{"N":"LowN","Region":"Canterbury","Season":"SU","SP":3700,"LP":1800},{"N":"LowN","Region":"Canterbury","Season":"SU","SP":4600,"LP":2800},
{"N":"LowN","Region":"Canterbury","Season":"AU","SP":2565,"LP":2820},{"N":"LowN","Region":"Canterbury","Season":"AU","SP":2650,"LP":2440},{"N":"LowN","Region":"Canterbury","Season":"AU","SP":2730,"LP":2200},{"N":"LowN","Region":"Canterbury","Season":"AU","SP":2900,"LP":1890},{"N":"LowN","Region":"Canterbury","Season":"AU","SP":2980,"LP":1500},{"N":"LowN","Region":"Canterbury","Season":"AU","SP":3565,"LP":2670},{"N":"LowN","Region":"Canterbury","Season":"AU","SP":3650,"LP":1300},{"N":"LowN","Region":"Canterbury","Season":"AU","SP":3815,"LP":1160},{"N":"LowN","Region":"Canterbury","Season":"AU","SP":3230,"LP":1800},{"N":"LowN","Region":"Canterbury","Season":"AU","SP":2400,"LP":2100},{"N":"LowN","Region":"Canterbury","Season":"AU","SP":3100,"LP":2500},{"N":"LowN","Region":"Canterbury","Season":"AU","SP":2200,"LP":1300},{"N":"LowN","Region":"Canterbury","Season":"AU","SP":2800,"LP":2600},{"N":"LowN","Region":"Canterbury","Season":"AU","SP":3300,"LP":2000},{"N":"LowN","Region":"Canterbury","Season":"AU","SP":2500,"LP":1700},{"N":"LowN","Region":"Canterbury","Season":"AU","SP":3500,"LP":1500},
{"N":"LowN","Region":"Canterbury","Panel":"LowN, Canterbury","SP":15,"LP":-40},{"N":"LowN","Region":"Canterbury","Panel":"LowN, Canterbury","SP":6600,"LP":4120},

{"N":"LowN","Region":"Southland","Season":"WI","SP":600,"LP":550},{"N":"LowN","Region":"Southland","Season":"WI","SP":700,"LP":450},{"N":"LowN","Region":"Southland","Season":"WI","SP":850,"LP":350},{"N":"LowN","Region":"Southland","Season":"WI","SP":800,"LP":250},{"N":"LowN","Region":"Southland","Season":"WI","SP":1000,"LP":500},{"N":"LowN","Region":"Southland","Season":"WI","SP":650,"LP":600},{"N":"LowN","Region":"Southland","Season":"WI","SP":900,"LP":600},
{"N":"LowN","Region":"Southland","Season":"ES","SP":1565,"LP":600},{"N":"LowN","Region":"Southland","Season":"ES","SP":1900,"LP":570},{"N":"LowN","Region":"Southland","Season":"ES","SP":1485,"LP":1160},{"N":"LowN","Region":"Southland","Season":"ES","SP":1735,"LP":1120},{"N":"LowN","Region":"Southland","Season":"ES","SP":1815,"LP":1700},{"N":"LowN","Region":"Southland","Season":"ES","SP":2400,"LP":2000},{"N":"LowN","Region":"Southland","Season":"ES","SP":2600,"LP":1800},{"N":"LowN","Region":"Southland","Season":"ES","SP":2800,"LP":1900},{"N":"LowN","Region":"Southland","Season":"ES","SP":2500,"LP":2100},{"N":"LowN","Region":"Southland","Season":"ES","SP":2900,"LP":1700},{"N":"LowN","Region":"Southland","Season":"ES","SP":5730,"LP":3150},{"N":"LowN","Region":"Southland","Season":"ES","SP":2350,"LP":1600},{"N":"LowN","Region":"Southland","Season":"ES","SP":1600,"LP":1100},{"N":"LowN","Region":"Southland","Season":"ES","SP":2300,"LP":1800},{"N":"LowN","Region":"Southland","Season":"ES","SP":2700,"LP":2100},{"N":"LowN","Region":"Southland","Season":"ES","SP":1400,"LP":700},
{"N":"LowN","Region":"Southland","Season":"LS","SP":5400,"LP":3300},{"N":"LowN","Region":"Southland","Season":"LS","SP":5900,"LP":3430},{"N":"LowN","Region":"Southland","Season":"LS","SP":3800,"LP":1600},{"N":"LowN","Region":"Southland","Season":"LS","SP":4000,"LP":1800},{"N":"LowN","Region":"Southland","Season":"LS","SP":4300,"LP":1700},{"N":"LowN","Region":"Southland","Season":"LS","SP":3600,"LP":2000},{"N":"LowN","Region":"Southland","Season":"LS","SP":4400,"LP":1500},{"N":"LowN","Region":"Southland","Season":"LS","SP":5300,"LP":3100},{"N":"LowN","Region":"Southland","Season":"LS","SP":2700,"LP":2200},{"N":"LowN","Region":"Southland","Season":"LS","SP":3900,"LP":2300},{"N":"LowN","Region":"Southland","Season":"LS","SP":5600,"LP":3200},
{"N":"LowN","Region":"Southland","Season":"SU","SP":4985,"LP":3100},{"N":"LowN","Region":"Southland","Season":"SU","SP":5485,"LP":3020},{"N":"LowN","Region":"Southland","Season":"SU","SP":5400,"LP":2860},{"N":"LowN","Region":"Southland","Season":"SU","SP":5150,"LP":2820},{"N":"LowN","Region":"Southland","Season":"SU","SP":6065,"LP":2620},{"N":"LowN","Region":"Southland","Season":"SU","SP":6230,"LP":2540},{"N":"LowN","Region":"Southland","Season":"SU","SP":6730,"LP":2810},{"N":"LowN","Region":"Southland","Season":"SU","SP":6985,"LP":2810},{"N":"LowN","Region":"Southland","Season":"SU","SP":7735,"LP":2810},{"N":"LowN","Region":"Southland","Season":"SU","SP":8150,"LP":3320},{"N":"LowN","Region":"Southland","Season":"SU","SP":8235,"LP":3010},{"N":"LowN","Region":"Southland","Season":"SU","SP":8985,"LP":2880},{"N":"LowN","Region":"Southland","Season":"SU","SP":9315,"LP":2920},{"N":"LowN","Region":"Southland","Season":"SU","SP":6315,"LP":1970},{"N":"LowN","Region":"Southland","Season":"SU","SP":6735,"LP":1890},{"N":"LowN","Region":"Southland","Season":"SU","SP":6565,"LP":1500},{"N":"LowN","Region":"Southland","Season":"SU","SP":6985,"LP":1780},{"N":"LowN","Region":"Southland","Season":"SU","SP":7315,"LP":1660},{"N":"LowN","Region":"Southland","Season":"SU","SP":3650,"LP":2130},{"N":"LowN","Region":"Southland","Season":"SU","SP":4570,"LP":2010},{"N":"LowN","Region":"Southland","Season":"SU","SP":3565,"LP":1890},{"N":"LowN","Region":"Southland","Season":"SU","SP":3650,"LP":1430},{"N":"LowN","Region":"Southland","Season":"SU","SP":4000,"LP":2000},{"N":"LowN","Region":"Southland","Season":"SU","SP":5700,"LP":2800},{"N":"LowN","Region":"Southland","Season":"SU","SP":6900,"LP":2000},
{"N":"LowN","Region":"Southland","Season":"AU","SP":3985,"LP":2820},{"N":"LowN","Region":"Southland","Season":"AU","SP":4235,"LP":2720},{"N":"LowN","Region":"Southland","Season":"AU","SP":4485,"LP":2780},{"N":"LowN","Region":"Southland","Season":"AU","SP":4065,"LP":2590},{"N":"LowN","Region":"Southland","Season":"AU","SP":4400,"LP":1750},{"N":"LowN","Region":"Southland","Season":"AU","SP":3650,"LP":1890},{"N":"LowN","Region":"Southland","Season":"AU","SP":2500,"LP":1900},{"N":"LowN","Region":"Southland","Season":"AU","SP":2700,"LP":2000},{"N":"LowN","Region":"Southland","Season":"AU","SP":3800,"LP":2200},{"N":"LowN","Region":"Southland","Season":"AU","SP":4200,"LP":2000},{"N":"LowN","Region":"Southland","Season":"AU","SP":3900,"LP":2400},{"N":"LowN","Region":"Southland","Season":"AU","SP":4600,"LP":2900},{"N":"LowN","Region":"Southland","Season":"AU","SP":3400,"LP":2100},
{"N":"LowN","Region":"Southland","Panel":"LowN, Southland","SP":35,"LP":450},{"N":"LowN","Region":"Southland","Panel":"LowN, Southland","SP":9700,"LP":4290}
]},
"facet":{
"row":{"field":"N","type":"nominal","sort":["HighN","LowN"],"header":{"labels":false,"title":"LP DM Yield (kg/ha)","titleFont":"Liberation Serif","titleFontSize":28,"titleFontWeight":"bold","titleColor":"black","titlePadding":-10}},
"column":{"field":"Region","type":"nominal","sort":["Waikato","Manawatu","Canterbury","Southland"],"header":{"labels":false,"title":"SP DM Yield (kg/ha)","titleOrient":"bottom","titleFont":"Liberation Serif","titleFontSize":26,"titleFontWeight":"bold","titleColor":"black","titlePadding":0}}
},
"spacing":0,
"spec":{
"width":210,"height":293,
"layer":[
{"transform":[{"filter":"isValid(datum.Season)"}],
 "mark":{"type":"point","filled":false,"color":"black","strokeWidth":0.9,"size":125,"opacity":1},
 "encoding":{
  "x":{"field":"SP","type":"quantitative","scale":{"domain":[-465,10150],"nice":false,"zero":false},"axis":{"values":[0,3000,6000,9000],"format":"d","title":null}},
  "y":{"field":"LP","type":"quantitative","scale":{"domain":[-180,6610],"nice":false,"zero":false},"axis":{"values":[0,1500,3000,4500,6000],"format":"d","title":null}},
  "shape":{"field":"Season","type":"nominal","scale":{"domain":["WI","ES","LS","SU","AU"],"range":["circle","square","diamond","triangle-up","triangle-right"]},"legend":{"title":"Season"}}
 }},
{"transform":[{"filter":"isValid(datum.Panel)"}],
 "mark":{"type":"line","color":"black","strokeWidth":4.5},
 "encoding":{"x":{"field":"SP","type":"quantitative"},"y":{"field":"LP","type":"quantitative"}}},
{"mark":{"type":"rule","color":"#a0a0a0","strokeWidth":1},
 "encoding":{"y":{"datum":6090}}},
{"transform":[{"filter":"isValid(datum.Panel)"},{"aggregate":[{"op":"count","as":"n"}],"groupby":["Panel","N","Region"]}],
 "mark":{"type":"text","font":"Liberation Serif","fontSize":18,"fontWeight":"bold","color":"black","baseline":"middle","align":"center"},
 "encoding":{"x":{"datum":4842},"y":{"datum":6340},"text":{"field":"Panel","type":"nominal"}}}
]
},
"config":{
"view":{"stroke":"#a0a0a0","strokeWidth":1},
"axis":{"grid":false,"domain":false,"tickColor":"#a0a0a0","tickSize":6,"labelFont":"Liberation Serif","labelFontWeight":"bold","labelFontSize":20,"labelColor":"black","labelPadding":3},
"axisX":{"labelPadding":3},
"legend":{"orient":"right","offset":-14,"padding":16,"titleFont":"Liberation Serif","titleFontSize":25,"titleFontWeight":"bold","titleColor":"black","labelFont":"Liberation Serif","labelFontSize":18,"labelFontWeight":"bold","labelColor":"black","symbolSize":100,"symbolStrokeWidth":1,"symbolStrokeColor":"black","rowPadding":8,"titlePadding":6}
}
}
